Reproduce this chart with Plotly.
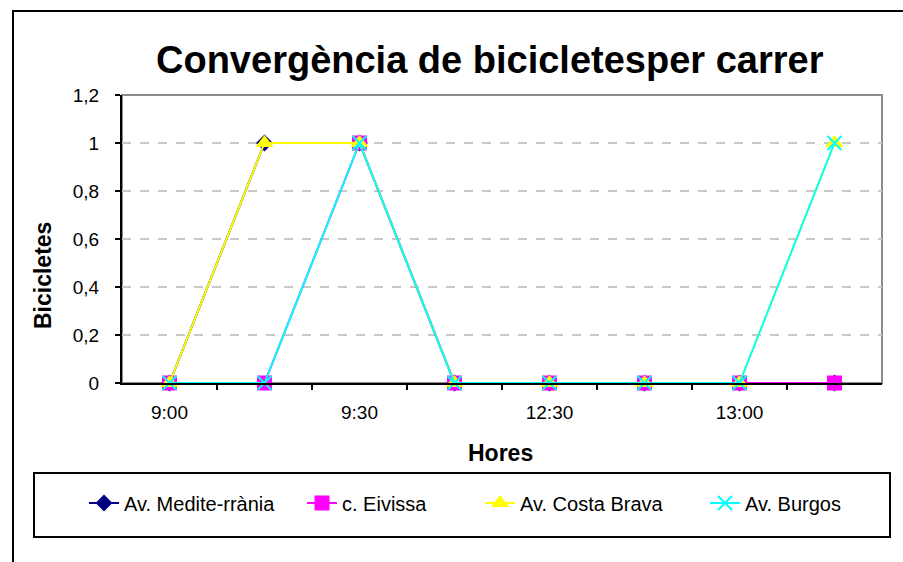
import plotly.graph_objects as go

# ---- data ----
categories = ["9:00", "9:15", "9:30", "9:45", "12:30", "12:45", "13:00", "13:15"]
tick_labels = ["9:00", "9:30", "12:30", "13:00"]
tick_positions = [0, 2, 4, 6]
series_names = ["Av. Medite-rrània", "c. Eivissa", "Av. Costa Brava", "Av. Burgos"]
av_mediterrania = [0, 1, 1, 0, 0, 0, 0, 0]
c_eivissa = [0, 0, 1, 0, 0, 0, 0, 0]
av_costa_brava = [0, 1, 1, 0, 0, 0, 0, 1]
av_burgos = [0, 0, 1, 0, 0, 0, 0, 1]

W, H = 903, 562
L, R, T, B = 122, 882, 95, 383


def px(x):
    return (x - L) / (R - L)


def py(y):
    return (B - y) / (B - T)


FONT = "Liberation Sans, Arial, sans-serif"
x_idx = list(range(len(categories)))

styles = [
    dict(color="#000080", symbol="diamond", size=13),
    dict(color="#FF00FF", symbol="square", size=15),
    dict(color="#FFFF00", symbol="triangle-up", size=16),
    dict(color="#00FFFF", symbol="x-thin", size=14),
]
values = [av_mediterrania, c_eivissa, av_costa_brava, av_burgos]
legend_ids = ["legend", "legend2", "legend3", "legend4"]
legend_text_x = [124, 342, 520, 745]

fig = go.Figure()
for name, vals, st, lg in zip(series_names, values, styles, legend_ids):
    marker = dict(color=st["color"], symbol=st["symbol"], size=st["size"],
                  line=dict(color=st["color"], width=2 if st["symbol"] == "x-thin" else 0))
    fig.add_trace(go.Scatter(
        x=x_idx, y=vals, name=name, mode="lines+markers",
        line=dict(color=st["color"], width=2),
        marker=marker, legend=lg, cliponaxis=False,
        hovertext=categories,
    ))

legend_layout = {}
for lg, tx in zip(legend_ids, legend_text_x):
    legend_layout[lg] = dict(
        orientation="h", x=px(tx - 40), xanchor="left", y=py(503), yanchor="middle",
        font=dict(family=FONT, size=20, color="black"),
        bgcolor="rgba(0,0,0,0)", borderwidth=0,
    )

fig.update_layout(
    width=W, height=H,
    margin=dict(l=L, r=W - R, t=T, b=H - B, pad=0),
    paper_bgcolor="white", plot_bgcolor="white",
    separators=",.",
    font=dict(family=FONT, color="black", size=19),
    showlegend=True,
    xaxis=dict(
        range=[-0.5, len(categories) - 0.5],
        tickvals=tick_positions, ticktext=tick_labels,
        ticks="", showgrid=False, zeroline=False,
        showline=True, linecolor="black", linewidth=2,
        tickfont=dict(family=FONT, size=19, color="black"),
        ticklabelstandoff=11,
        minor=dict(tickvals=[i + 0.5 for i in range(len(categories) - 1)],
                   ticks="outside", ticklen=5, tickcolor="black", tickwidth=2,
                   showgrid=False),
        fixedrange=True,
    ),
    yaxis=dict(
        range=[0, 1.2], dtick=0.2, tick0=0,
        ticks="outside", ticklen=5, tickcolor="black", tickwidth=2,
        showline=True, linecolor="black", linewidth=2,
        showgrid=True, gridcolor="#c8c8c8", gridwidth=1.5, griddash="dash",
        zeroline=False,
        tickfont=dict(family=FONT, size=19, color="black"),
        ticklabelstandoff=12,
        fixedrange=True,
    ),
    shapes=[
        dict(type="rect", xref="paper", yref="paper", x0=0, y0=0, x1=1, y1=1,
             line=dict(color="#8c8c8c", width=2), layer="below"),
        dict(type="rect", xref="paper", yref="paper",
             x0=px(13), y0=py(580), x1=px(915), y1=py(11),
             line=dict(color="black", width=2), layer="above"),
        dict(type="rect", xref="paper", yref="paper",
             x0=px(34), y0=py(537), x1=px(890), y1=py(473),
             line=dict(color="black", width=2), layer="above"),
    ],
    annotations=[
        dict(text="<b>Convergència de bicicletesper carrer</b>", xref="paper", yref="paper",
             x=px(490), y=py(60), xanchor="center", yanchor="middle", showarrow=False,
             font=dict(family=FONT, size=38, color="black")),
        dict(text="<b>Hores</b>", xref="paper", yref="paper",
             x=px(500), y=py(453), xanchor="center", yanchor="middle", showarrow=False,
             font=dict(family=FONT, size=23, color="black")),
        dict(text="<b>Bicicletes</b>", xref="paper", yref="paper",
             x=px(43), y=py(276), xanchor="center", yanchor="middle", showarrow=False,
             textangle=-90, font=dict(family=FONT, size=23, color="black")),
    ],
    **legend_layout,
)

fig.write_html("out.html", config={"displayModeBar": False},
               post_script="document.body.style.margin='0';document.body.style.overflow='hidden';")
